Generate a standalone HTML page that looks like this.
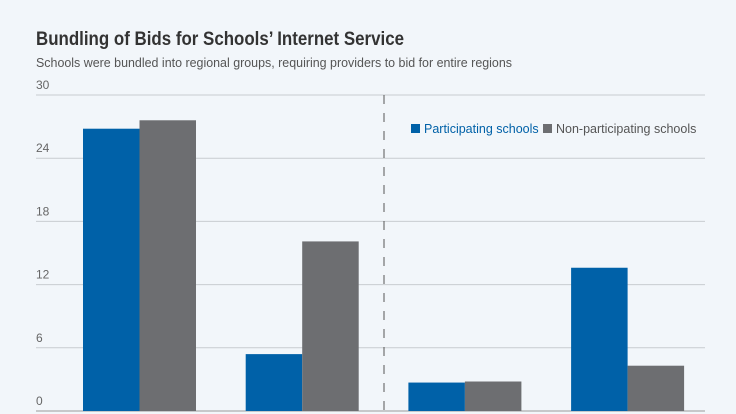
<!DOCTYPE html>
<html><head><meta charset="utf-8"><style>
body{margin:0;background:#f2f6fa;font-family:"Liberation Sans",sans-serif;}
</style></head><body>
<svg width="736" height="414" id="c" style="display:block">
<rect width="736" height="414" fill="#f2f6fa"/>
<text x="36" y="45" font-size="19" font-weight="bold" fill="#333" textLength="368" lengthAdjust="spacingAndGlyphs">Bundling of Bids for Schools’ Internet Service</text>
<text x="36" y="67" font-size="13" fill="#555" textLength="476" lengthAdjust="spacingAndGlyphs">Schools were bundled into regional groups, requiring providers to bid for entire regions</text>
<g id="grid"></g>
<g id="bars"></g>
<line x1="384" y1="95" x2="384" y2="414" stroke="#555" stroke-width="1" stroke-dasharray="9,9"/>
<g>
<rect x="411" y="124" width="9" height="9" fill="#0061a8"/>
<text x="424" y="133" font-size="12.5" fill="#0061a8">Participating schools</text>
<rect x="543" y="124" width="9" height="9" fill="#6d6e71"/>
<text x="556" y="133" font-size="12.5" fill="#555">Non-participating schools</text>
</g>
</svg>
<script>
const categories=["g1","g2","g3","g4"];
const participating=[26.8,5.4,2.7,13.6];
const nonParticipating=[27.6,16.1,2.8,4.3];
const ticks=[0,6,12,18,24,30];
const ns="http://www.w3.org/2000/svg";
const y=v=>411-v*(316/30);
const groupX=i=>83+i*162.7;
const bw=56.5;
const grid=document.getElementById('grid'),bars=document.getElementById('bars');
ticks.forEach(t=>{
 const l=document.createElementNS(ns,'line');
 l.setAttribute('x1',36);l.setAttribute('x2',705);l.setAttribute('y1',y(t));l.setAttribute('y2',y(t));
 l.setAttribute('stroke',t===0?'#999':'#c8ccd0');l.setAttribute('stroke-width',1);
 
 
 grid.appendChild(l);
 const tx=document.createElementNS(ns,'text');
 tx.setAttribute('x',36);tx.setAttribute('y',y(t)-6);tx.setAttribute('font-size',12);tx.setAttribute('fill','#666');
 tx.textContent=t;
 
 
 grid.appendChild(tx);
});
categories.forEach((c,i)=>{
 [[participating,'#0061a8',0],[nonParticipating,'#6d6e71',1]].forEach(([arr,col,k])=>{
  const r=document.createElementNS(ns,'rect');
  r.setAttribute('x',groupX(i)+k*bw);r.setAttribute('width',bw);
  r.setAttribute('y',y(arr[i]));r.setAttribute('height',y(0)-y(arr[i]));
  r.setAttribute('fill',col);
  
  
  bars.appendChild(r);
 });
});
</script>
</body></html>
